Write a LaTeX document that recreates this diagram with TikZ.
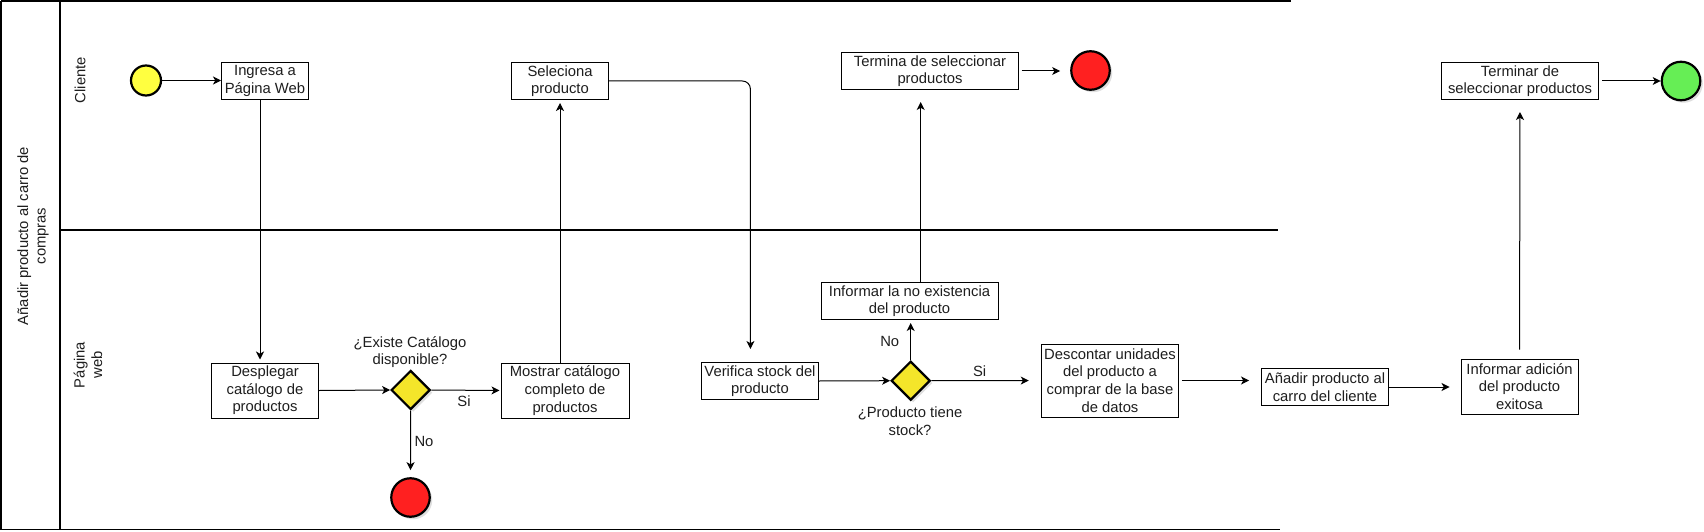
\documentclass[tikz,border=0pt]{standalone}
\usepackage{fontspec}
\setmainfont{Liberation Sans}
\usetikzlibrary{arrows.meta,shapes.geometric,shadows,calc}
\definecolor{txtc}{HTML}{1E1E1E}
\definecolor{startc}{HTML}{FFFF40}
\definecolor{gatec}{HTML}{F4E52A}
\definecolor{endc}{HTML}{FF2020}
\definecolor{okc}{HTML}{66EE55}
\tikzset{
  lane/.style={line width=1.1pt, draw=black},
  taskbox/.style={draw=black, line width=1pt, fill=white, align=center, text=txtc,
     inner sep=1pt, font=\fontsize{14.8}{17.6}\selectfont},
  lbl/.style={align=center, text=txtc, inner sep=0pt, font=\fontsize{14.8}{17.6}\selectfont},
  evt/.style={circle, draw=black, line width=2.2pt, inner sep=0pt},
  endevt/.style={evt, minimum size=38.5pt, fill=endc,
     drop shadow={shadow xshift=2.5pt, shadow yshift=-2.5pt, opacity=0.25}},
  gate/.style={diamond, draw=black, line width=2.2pt, fill=gatec, inner sep=0pt,
     minimum width=39pt, minimum height=39pt,
     drop shadow={shadow xshift=2.5pt, shadow yshift=-2.5pt, opacity=0.25}},
  arr/.style={-{Stealth[length=8pt, width=8pt, inset=2.2pt]}, line width=1pt, draw=black},
}
\begin{document}
\begin{tikzpicture}[x=1pt, y=-1pt]
\useasboundingbox (0,0) rectangle (1704,532);
\fill[white] (0,0) rectangle (1704,532);

% pool and lanes
\draw[lane] (1,1) -- (1291,1);
\draw[lane] (1,1) -- (1,529.5);
\draw[lane] (1,529.5) -- (1280,529.5);
\draw[lane] (60,1) -- (60,529.5);
\draw[lane] (60,230) -- (1278,230);

\node[lbl, rotate=90] (pool) at (33,236) {Añadir producto al carro de\\compras};
\node[lbl, rotate=90] (lcli) at (80,80) {Cliente};
\node[lbl, rotate=90] (lweb) at (88,365) {Página\\web};

% events
\node[evt, fill=startc, minimum size=30pt] (start) at (146,80.5) {};
\node[endevt] (end1) at (410.5,497.5) {};
\node[endevt] (end2) at (1090.5,70.5) {};
\node[endevt, fill=okc] (end3) at (1681,81) {};

% gateways
\node[gate] (gw1) at (410.7,390) {};
\node[gate] (gw2) at (910.7,380.7) {};

% tasks
\node[taskbox, minimum width=87pt, minimum height=37pt] (ingresa) at (265,81) {Ingresa a\\Página Web};
\node[taskbox, minimum width=97pt, minimum height=37pt] (selec) at (560,81) {Seleciona\\producto};
\node[taskbox, minimum width=177pt, minimum height=37pt] (termina) at (930,71) {Termina de seleccionar\\productos};
\node[taskbox, minimum width=157pt, minimum height=37pt] (terminar) at (1520,81) {Terminar de\\seleccionar productos};
\node[taskbox, minimum width=107pt, minimum height=55pt] (despl) at (265,390.5) {Desplegar\\catálogo de\\productos};
\node[taskbox, minimum width=128pt, minimum height=55pt] (mostrar) at (565,390.5) {Mostrar catálogo\\completo de\\productos};
\node[taskbox, minimum width=117pt, minimum height=37pt] (verif) at (760,381) {Verifica stock del\\producto};
\node[taskbox, minimum width=177pt, minimum height=37pt] (infno) at (909.5,301) {Informar la no existencia\\del producto};
\node[taskbox, minimum width=137.5pt, minimum height=73pt] (desc) at (1110,380.5) {Descontar unidades\\del producto a\\comprar de la base\\de datos};
\node[taskbox, minimum width=127pt, minimum height=37pt] (anadir) at (1325,387) {Añadir producto al\\carro del cliente};
\node[taskbox, minimum width=117pt, minimum height=55pt] (infad) at (1519.5,386.5) {Informar adición\\del producto\\exitosa};

% labels
\node[lbl] (q1) at (410,352) {¿Existe Catálogo\\disponible?};
\node[lbl] (si1) at (464,401.7) {Si};
\node[lbl] (no1) at (424,441) {No};
\node[lbl] (q2) at (910,421) {¿Producto tiene\\stock?};
\node[lbl] (no2) at (889.7,341) {No};
\node[lbl] (si2) at (979.6,371) {Si};

% helper coordinates
\coordinate (xa) at (920.7,0);

% connectors
\draw[arr] (start.east) -- (start.east -| ingresa.west);
\draw[arr, shorten >=3pt] ([xshift=-5pt]ingresa.south) -- ([xshift=-5pt]despl.north);
\draw[arr] (despl.east) -- (gw1.west);
\draw[arr, shorten >=1pt] (gw1.east) -- (mostrar.west);
\draw[arr, shorten >=7pt] (gw1.south) -- (end1.north);
\draw[arr, shorten >=3pt] (selec.south |- mostrar.north) -- (selec.south);
\draw[arr, rounded corners=8pt, shorten >=13pt] (selec.east) -| ([xshift=-9.6pt]verif.north);
\draw[arr] (verif.east) -- (gw2.west);
\draw[arr, shorten >=3pt] (gw2.north) -- (gw2.north |- infno.south);
\draw[arr, shorten >=12pt] (infno.north -| xa) -- (termina.south -| xa);
\draw[arr, shorten <=2.5pt, shorten >=10pt] (termina.east) -- (termina.east -| end2.west);
\draw[arr, shorten >=12pt] (gw2.east) -- (desc.west);
\draw[arr, shorten <=2.5pt, shorten >=12pt] (desc.east) -- (desc.east -| anadir.west);
\draw[arr, shorten >=11pt] (anadir.east) -- (anadir.east -| infad.west);
\draw[arr, shorten <=9pt, shorten >=12pt] (infad.north) -- (terminar.south);
\draw[arr, shorten <=3pt] (terminar.east) -- (terminar.east -| end3.west);
\end{tikzpicture}
\end{document}
